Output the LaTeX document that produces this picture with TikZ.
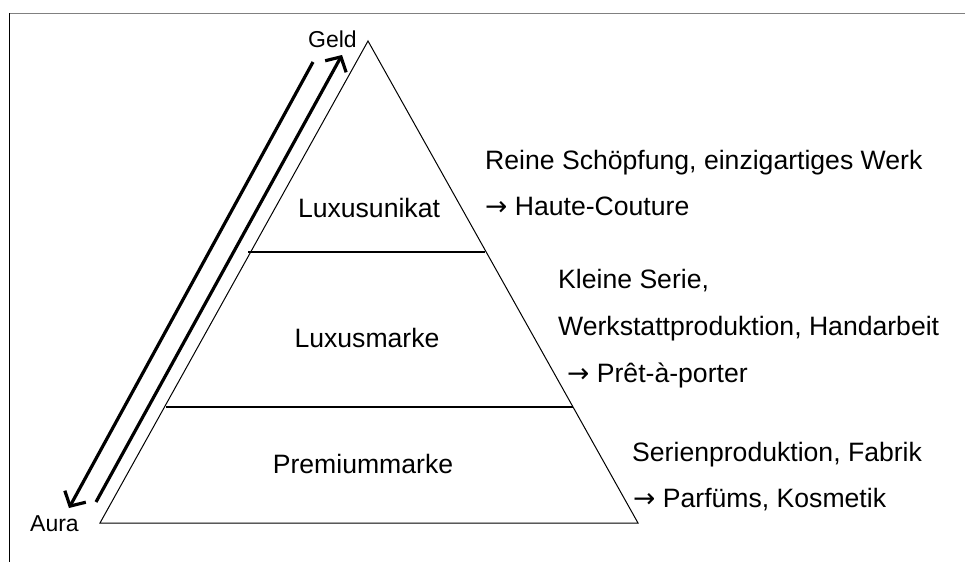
\documentclass[tikz,border=0pt]{standalone}
\usepackage{fontspec}
\setmainfont{Liberation Sans}
\newfontfamily\arrowfont{DejaVu Sans}
\newcommand{\rarr}{{\arrowfont →}}
\usetikzlibrary{arrows.meta}
\begin{document}
\begin{tikzpicture}[x=1pt,y=-1pt,
  big/.style={font=\fontsize{26.6}{30}\selectfont, inner sep=0pt},
  small/.style={font=\fontsize{23}{26}\selectfont, inner sep=0pt},
  edge/.style={line width=1pt, line join=miter},
  divider/.style={line width=2pt},
  flow/.style={line width=3.2pt, -{Straight Barb[length=11pt,width=24pt]}}]
\useasboundingbox (0,0) rectangle (965,562);
% frame
\draw[gray, line width=1pt] (9,13) -- (965,13);
\draw[line width=1pt] (9,13) -- (9,562);
% pyramid
\coordinate (apex) at (368,41);
\coordinate (bl) at (100,523);
\coordinate (br) at (638,523);
\draw[edge] (bl) -- (apex) -- (br) -- cycle;
\coordinate (d1l) at (248,252);
\coordinate (d1r) at (485,252);
\coordinate (d2l) at (166,407);
\coordinate (d2r) at (573,407);
\draw[divider] (d1l) -- (d1r);
\draw[divider] (d2l) -- (d2r);
% arrows
\coordinate (a1s) at (313,62);
\coordinate (a1e) at (69,508);
\coordinate (a2s) at (96,502);
\coordinate (a2e) at (342,55);
\draw[flow] (a1s) -- (a1e);
\draw[flow] (a2s) -- (a2e);
% labels
\node[small, anchor=base west] (geld) at (308,47) {Geld};
\node[small, anchor=base west] (aura) at (30,531) {Aura};
\node[big, anchor=base] (unikat) at (369,217) {Luxusunikat};
\node[big, anchor=base] (marke) at (367,347) {Luxusmarke};
\node[big, anchor=base] (premium) at (363,473) {Premiummarke};
\node[big, anchor=base west] (t1a) at (485,169) {Reine Schöpfung, einzigartiges Werk};
\node[big, anchor=base west] (t1b) at (485,215) {\rarr\ Haute-Couture};
\node[big, anchor=base west] (t2a) at (558,288) {Kleine Serie,};
\node[big, anchor=base west] (t2b) at (558,335) {Werkstattproduktion, Handarbeit};
\node[big, anchor=base west] (t2c) at (567,382) {\rarr\ Prêt-à-porter};
\node[big, anchor=base west] (t3a) at (632,461) {Serienproduktion, Fabrik};
\node[big, anchor=base west] (t3b) at (633,507) {\rarr\ Parfüms, Kosmetik};
\end{tikzpicture}
\end{document}
